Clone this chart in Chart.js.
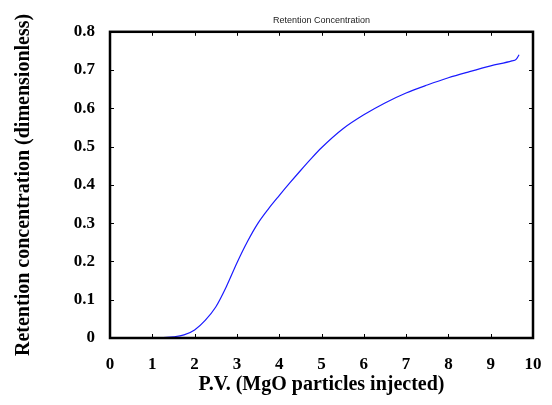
<!DOCTYPE html>
<html>
<head>
<meta charset="utf-8">
<title>Retention Concentration</title>
<script src="https://cdn.jsdelivr.net/npm/chart.js@4.4.1/dist/chart.umd.min.js"></script>
<style>
    html, body { margin: 0; padding: 0; background: #ffffff; }
    #wrap { width: 552px; height: 405px; }
</style>
</head>
<body>
<div id="wrap"><canvas id="retentionChart" width="552" height="405"></canvas></div>
<script>
// Data
const pvInjected = [0, 0.5, 1, 1.5, 1.75, 2, 2.25, 2.5, 2.75, 3, 3.25, 3.5, 3.75, 4, 4.25, 4.5, 4.75, 5, 5.5, 6, 6.5, 7, 7.5, 8, 8.5, 9, 9.5, 9.6, 9.67];
const retention = [0, 0, 0, 0.003, 0.008, 0.021, 0.046, 0.081, 0.134, 0.196, 0.252, 0.300, 0.338, 0.372, 0.405, 0.437, 0.468, 0.497, 0.546, 0.583, 0.614, 0.640, 0.661, 0.680, 0.696, 0.711, 0.724, 0.728, 0.740];
const xTickLabels = ['0', '1', '2', '3', '4', '5', '6', '7', '8', '9', '10'];
const yTickLabels = ['0', '0.1', '0.2', '0.3', '0.4', '0.5', '0.6', '0.7', '0.8'];

const serifBold = { family: "'Liberation Serif', 'Times New Roman', serif", weight: 'bold' };

// Black box round the plot with small inward ticks on every side
const frameBox = {
    id: 'frameBox',
    afterDraw(chart) {
        const { ctx, chartArea: a, scales } = chart;
        const len = 4;
        ctx.save();
        ctx.strokeStyle = '#000';
        ctx.lineWidth = 1;
        ctx.beginPath();
        scales.x.ticks.forEach(t => {
            const px = Math.round(scales.x.getPixelForValue(t.value)) + 0.5;
            ctx.moveTo(px, a.bottom); ctx.lineTo(px, a.bottom - len);
            ctx.moveTo(px, a.top); ctx.lineTo(px, a.top + len);
        });
        scales.y.ticks.forEach(t => {
            const py = Math.round(scales.y.getPixelForValue(t.value)) + 0.5;
            ctx.moveTo(a.left, py); ctx.lineTo(a.left + len, py);
            ctx.moveTo(a.right, py); ctx.lineTo(a.right - len, py);
        });
        ctx.stroke();
        ctx.lineWidth = 2.5;
        ctx.strokeRect(a.left, a.top, a.right - a.left, a.bottom - a.top);
        ctx.restore();
    }
};

const ctx = document.getElementById('retentionChart').getContext('2d');
const retentionChart = new Chart(ctx, {
    type: 'scatter',
    data: {
        datasets: [{
            label: 'Retention',
            data: pvInjected.map((x, i) => ({ x: x, y: retention[i] })),
            showLine: true,
            borderColor: '#1a1aff',
            borderWidth: 1.2,
            pointRadius: 0,
            cubicInterpolationMode: 'monotone',
            fill: false
        }]
    },
    options: {
        responsive: false,
        animation: false,
        layout: { padding: { left: 0, right: 19, top: 0, bottom: 0 } },
        plugins: {
            legend: { display: false },
            tooltip: { enabled: false },
            title: {
                display: true,
                text: 'Retention Concentration',
                fullSize: false,
                color: '#222',
                font: { family: "'Liberation Sans', Arial, sans-serif", size: 9, weight: 'normal' },
                padding: { top: 15, bottom: 6 }
            }
        },
        scales: {
            x: {
                type: 'linear',
                min: 0,
                max: 10,
                grid: { display: false },
                border: { display: false },
                ticks: {
                    stepSize: 1,
                    color: '#000',
                    padding: 8,
                    maxRotation: 0,
                    font: { ...serifBold, size: 17 },
                    callback: (v, i) => xTickLabels[i]
                },
                title: {
                    display: true,
                    text: 'P.V. (MgO particles injected)',
                    color: '#000',
                    font: { ...serifBold, size: 20 },
                    padding: { top: 0, bottom: 8 }
                },
                afterFit: s => { s.height = 67; }
            },
            y: {
                min: 0,
                max: 0.8,
                grid: { display: false },
                border: { display: false },
                ticks: {
                    stepSize: 0.1,
                    color: '#000',
                    padding: 7,
                    font: { ...serifBold, size: 17 },
                    callback: (v, i) => yTickLabels[i]
                },
                title: {
                    display: true,
                    text: 'Retention concentration (dimensionless)',
                    color: '#000',
                    font: { ...serifBold, size: 20 },
                    padding: { top: 12, bottom: 0 }
                },
                afterFit: s => { s.width = 110; }
            }
        }
    },
    plugins: [frameBox]
});
</script>
</body>
</html>
